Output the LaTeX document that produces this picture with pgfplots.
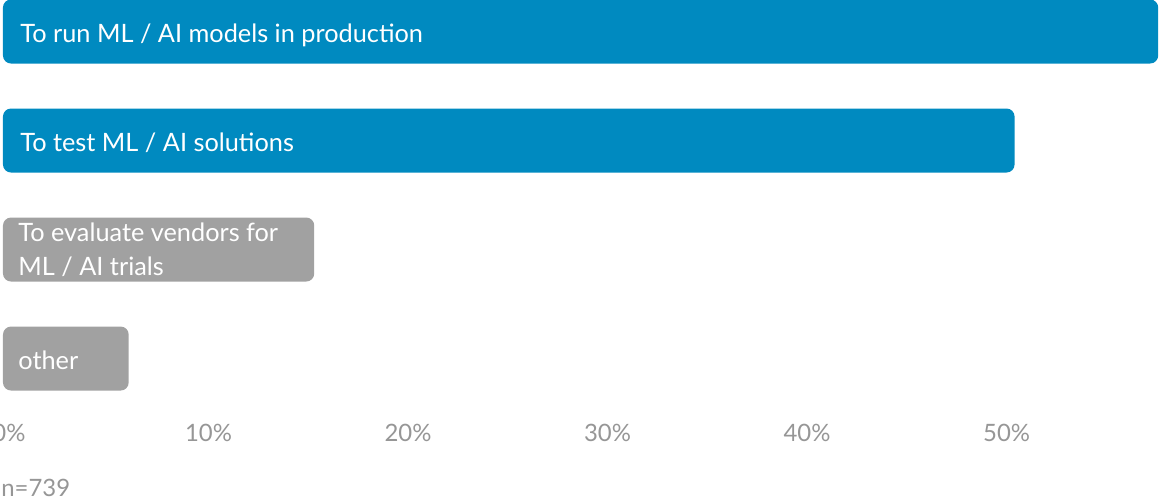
\documentclass[border=0pt]{standalone}
\usepackage{pgfplots}
\pgfplotsset{compat=1.18}
\usepackage{fontspec}
\setmainfont{Lato}
\definecolor{barblue}{RGB}{0,138,192}
\definecolor{bargray}{RGB}{161,161,161}
\definecolor{ticgray}{RGB}{150,150,150}
\begin{document}
\begin{tikzpicture}
\path[use as bounding box] (0,0) rectangle (579.5bp,252bp);
\begin{axis}[
  at={(0,252bp)}, anchor=north west,
  scale only axis, width=579.5bp, height=205bp,
  xmin=-0.15, xmax=57.94,
  ymin=-0.289, ymax=3.472, y dir=reverse,
  axis line style={draw=none}, tick style={draw=none},
  ytick=\empty,
  xtick={0,10,20,30,40,50},
  xticklabels={0\%,10\%,20\%,30\%,40\%,50\%},
  xticklabel style={anchor=center, yshift=-11.5bp, xshift=3bp, font=\fontsize{12}{14}\selectfont, text=ticgray},
  xbar, bar width=32bp, bar shift=0pt,
  clip=false,
]
\addplot[fill=barblue, draw=none, rounded corners=4bp] coordinates {(57.9,0) (50.7,1)};
\addplot[fill=bargray, draw=none, rounded corners=4bp] coordinates {(15.6,2) (6.3,3)};
\node[anchor=base west, text=white, inner sep=0pt, font=\fontsize{12.7}{15}\selectfont, xshift=8.5bp, yshift=-5.25bp] at (axis cs:0,0) {To run ML / AI models in production};
\node[anchor=base west, text=white, inner sep=0pt, font=\fontsize{12.7}{15}\selectfont, xshift=8.5bp, yshift=-5.25bp] at (axis cs:0,1) {To test ML / AI solutions};
\node[anchor=base west, text=white, inner sep=0pt, font=\fontsize{12.7}{15}\selectfont, xshift=7.5bp, yshift=4bp] at (axis cs:0,2) {To evaluate vendors for};
\node[anchor=base west, text=white, inner sep=0pt, font=\fontsize{12.7}{15}\selectfont, xshift=7.5bp, yshift=-13bp] at (axis cs:0,2) {ML / AI trials};
\node[anchor=base west, text=white, inner sep=0pt, font=\fontsize{12.7}{15}\selectfont, xshift=7.5bp, yshift=-5.25bp] at (axis cs:0,3) {other};
\end{axis}
\node[anchor=base west, inner sep=0pt, text=ticgray, font=\fontsize{12}{14}\selectfont] at (0.5bp,4bp) {n=739};
\end{tikzpicture}
\end{document}
